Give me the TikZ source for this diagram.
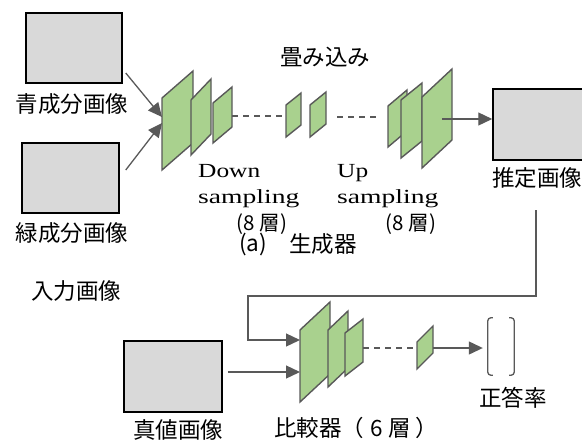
\documentclass[tikz,border=0pt]{standalone}
\usepackage{fontspec}
\setmainfont{Liberation Serif}
\newfontfamily\jp{Noto Sans CJK JP}
\usetikzlibrary{arrows.meta}
\definecolor{boxfill}{HTML}{D9D9D9}
\definecolor{lgreen}{HTML}{A9D18E}
\definecolor{dgray}{HTML}{595959}
\tikzset{
 imgbox/.style={draw=black, fill=boxfill, line width=1.5pt, inner sep=0pt},
 layer/.style={draw=dgray, fill=lgreen, line width=1.4pt, line join=miter},
 conn/.style={draw=dgray, line width=1.3pt},
 arr/.style={conn, -{Triangle[length=14pt,width=13pt]}},
 dashconn/.style={draw=dgray, line width=1.3pt, dash pattern=on 6pt off 5pt},
 jplabel/.style={font=\jp\fontsize{22.5}{26}\selectfont, inner sep=0pt},
 smalljp/.style={font=\jp\fontsize{20.5}{24}\selectfont, inner sep=0pt},
 seriflabel/.style={font=\fontsize{20}{24}\selectfont, inner sep=0pt},
 bracket/.style={draw=dgray, line width=1.3pt, rounded corners=3pt},
}
\newcommand\layerbox[5]{% x, y(top of left edge), w, h, skew
 \draw[layer] (#1,#2) -- (#1+#3,#2-#5) -- (#1+#3,#2-#5+#4) -- (#1,#2+#4) -- cycle;
}
\begin{document}
\begin{tikzpicture}[x=1pt,y=-1pt]
\useasboundingbox (0,0) rectangle (582,440);

% image boxes
\node[imgbox, minimum width=96pt, minimum height=70pt] (blue) at (74,48) {};
\node[imgbox, minimum width=97pt, minimum height=70pt] (green) at (70.5,178) {};
\node[imgbox, minimum width=100pt, minimum height=71pt] (est) at (543,124.5) {};
\node[imgbox, minimum width=98pt, minimum height=71pt] (truth) at (173,376.5) {};

% labels
\node[jplabel] (lblue) at (72,104) {青成分画像};
\node[jplabel] (lgreen) at (72,233) {緑成分画像};
\node[jplabel] (linput) at (76,291) {入力画像};
\node[jplabel] (lconv) at (325,57) {畳み込み};
\node[jplabel] (lest) at (537,178) {推定画像};
\node[jplabel] (ltruth) at (178,430) {真値画像};
\node[jplabel] (lacc) at (513,398) {正答率};
\node[jplabel] (lcomp) at (356,428) {比較器（\hspace{6pt}6\hspace{6pt}層\hspace{4pt}）};
\node[seriflabel, anchor=base west] (ldown1) at (198,177) {\scalebox{1.27}[1]{Down}};
\node[seriflabel, anchor=base west] (ldown2) at (198,203) {\scalebox{1.38}[1]{sampling}};
\node[seriflabel, anchor=base west] (lup1) at (337,177) {\scalebox{1.27}[1]{Up}};
\node[seriflabel, anchor=base west] (lup2) at (337,203) {\scalebox{1.38}[1]{sampling}};
\node[smalljp] (l8a) at (262,224) {(8 層)};
\node[smalljp] (l8b) at (411,224) {(8 層)};
\node[jplabel, anchor=west] (lgena) at (239,244) {(a)};
\node[jplabel, anchor=west] (lgen) at (289,244) {生成器};

% generator layers
\layerbox{162}{98}{31}{72}{27}
\layerbox{191}{100}{20}{55}{21}
\layerbox{213}{103}{19}{40}{16}
\layerbox{286}{105}{15}{32}{12}
\layerbox{310}{105}{16}{32}{13}
\layerbox{388}{106}{19}{41}{16}
\layerbox{401}{100}{21}{58}{17}
\layerbox{422}{97}{30}{71}{28}
% comparator layers
\layerbox{300}{330}{30}{72}{28}
\layerbox{328}{330}{20}{57}{19}
\layerbox{345}{333}{18}{43}{14}
\layerbox{417}{342}{16}{27}{16}

% connector points
\coordinate (gin1) at (162,117);
\coordinate (gin2) at (162,123);
\coordinate (d1a) at (232,116);
\coordinate (d1b) at (286,116);
\coordinate (d2a) at (337,117);
\coordinate (d2b) at (380,117);
\coordinate (gout) at (442,119);
\coordinate (cin1) at (300,340);
\coordinate (cin2) at (300,372);
\coordinate (d3a) at (363,348);
\coordinate (d3b) at (417,348);
\coordinate (cout) at (433,348);
\coordinate (fb) at (536,210);
\coordinate (fbturn) at (536,296);
\coordinate (fbdown) at (248,340);

% result bracket
\node[minimum width=26pt, minimum height=57pt, inner sep=0pt] (res) at (501,346.5) {};
\draw[bracket] ([xshift=5pt]res.north west) -- (res.north west) -- (res.south west) -- ([xshift=5pt]res.south west);
\draw[bracket] ([xshift=-5pt]res.north east) -- (res.north east) -- (res.south east) -- ([xshift=-5pt]res.south east);

% connectors
\draw[arr] ([shift={(3,25)}]blue.east) -- (gin1);
\draw[arr] ([shift={(6,-8)}]green.east) -- (gin2);
\draw[dashconn] (d1a) -- (d1b);
\draw[dashconn] (d2a) -- (d2b);
\draw[arr] (gout) -- (est.west |- gout);
\draw[dashconn] (d3a) -- (d3b);
\draw[arr] (cout) -- ([xshift=-5pt]res.west |- cout);
\draw[arr] (fb) -- (fbturn) -| (fbdown) -- (cin1);
\draw[arr] ([xshift=5pt]truth.east |- cin2) -- (cin2);
\end{tikzpicture}
\end{document}
